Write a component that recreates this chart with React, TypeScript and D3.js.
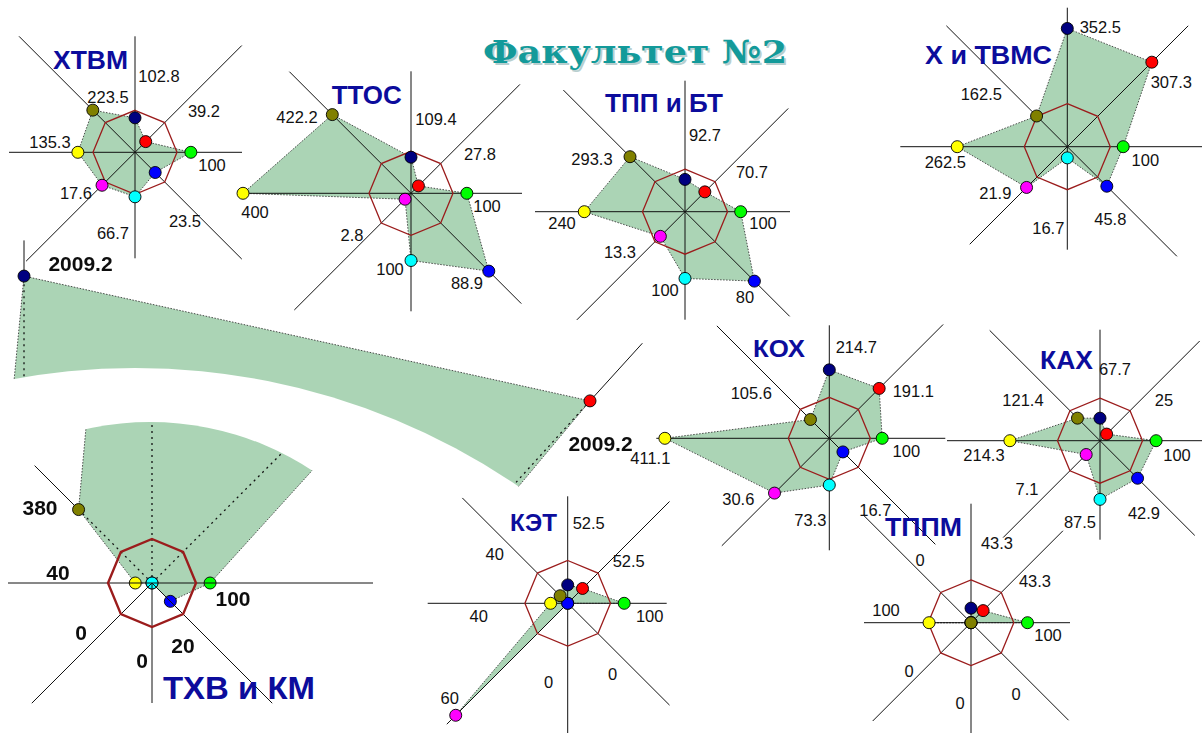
import React, { useEffect, useRef } from "react";
import * as d3 from "d3";

const W = 1202;
const H = 733;

// axis order everywhere: N, NE, E, SE, S, SW, W, NW
const pointColors = ["#000080", "#ff0000", "#00ff00", "#0000ff", "#00ffff", "#ff00ff", "#ffff00", "#808000"];
const drawOrder = [5, 4, 3, 0, 1, 2, 6, 7];

const pageTitle = "Факультет №2";

// printed labels and plotted radius (in units where the red octagon = 100)
const xtvmLabels = ["102.8", "39.2", "100", "23.5", "66.7", "17.6", "135.3", "223.5"];
const xtvmPlotted = [82, 36, 133, 68, 106, 111, 136, 142];

const ttosLabels = ["109.4", "27.8", "100", "88.9", "100", "2.8", "400", "422.2"];
const ttosPlotted = [86, 25, 133, 262, 160, 20, 400, 265];

const tppLabels = ["92.7", "70.7", "100", "80", "100", "13.3", "240", "293.3"];
const tppPlotted = [76, 66, 131, 231, 157, 82, 237, 183];

const xtvmsLabels = ["352.5", "307.3", "100", "45.8", "16.7", "21.9", "262.5", "162.5"];
const xtvmsPlotted = [275, 278, 130, 130, 26, 134, 256, 101];

const koxLabels = ["214.7", "191.1", "100", "16.7", "73.3", "30.6", "411.1", "105.6"];
const koxPlotted = [167, 172, 129, 47, 114, 189, 401, 65];

const kaxLabels = ["67.7", "25", "100", "42.9", "87.5", "7.1", "214.3", "121.4"];
const kaxPlotted = [53, 22, 132, 125, 138, 46, 212, 75];

const ketLabels = ["52.5", "52.5", "100", "0", "0", "60", "40", "40"];
const ketPlotted = [43, 49, 132, 0, 0, 370, 40, 25];

const tppmLabels = ["43.3", "43.3", "100", "0", "0", "0", "100", "0"];
const tppmPlotted = [34, 40, 132, 0, 0, 0, 98, 0];

const txvLabels = ["2009.2", "2009.2", "100", "20", "0", "0", "40", "380"];
const txvPlotted = [2009.2, 2009.2, 132, 59, 0, 0, 38, 236];

const FILL = "#abd4b5";
const OCT = "#9b1c1c";
const TITLE_COLOR = "#0c0c9c";
const SANS = "'Liberation Sans', Arial, sans-serif";

type Chart = {
  labels: string[];
  values: number[];
  cx: number;
  cy: number;
  r: number;
  skew?: number[];
  arms: number[];
  under?: number[];
  offsets: (number[] | null)[];
  dots?: number[];
  octagon?: boolean;
  octWidth?: number;
  fan?: number[];
  hole?: number[];
  box?: number[];
  bold?: boolean;
  title?: { text: string; x: number; y: number; size: number; width: number };
};

const charts: Chart[] = [
  {
    // magnified strip of the ТХВ и КМ chart
    labels: txvLabels, values: txvPlotted, cx: 24, cy: 1024.3, r: 40,
    skew: [0.996, -0.166, 0, 0.931],
    arms: [842, 878, 0, 0, 0, 0, 0, 0], under: [0, 1],
    offsets: [[56.5, -761.3], [576.5, -581.3], null, null, null, null, null, null],
    dots: [0, 1], octagon: false, hole: [135, 1048, 680], box: [0, 236, 660, 560], bold: true,
  },
  {
    labels: txvLabels, values: txvPlotted, cx: 152, cy: 583, r: 44,
    arms: [0, 0, 221, 170, 120, 170, 144, 166], under: [0, 1, 7],
    offsets: [null, null, [81, 15], [31, 62], [-10, 77], [-71, 49], [-94, -11], [-112, -76]],
    fan: [150, 718, 296], octWidth: 2.4, bold: true,
    title: { text: "ТХВ и КМ", x: 239, y: 688, size: 32, width: 152 },
  },
  {
    labels: xtvmLabels, values: xtvmPlotted, cx: 135, cy: 152.3, r: 42,
    arms: [116, 151, 107, 151, 106, 154, 126, 164],
    offsets: [[24, -76], [69, -41], [77, 13], [50, 69], [-22, 81], [-59, 41], [-85, -10], [-27, -55]],
    title: { text: "ХТВМ", x: 90.5, y: 60, size: 25, width: 75 },
  },
  {
    labels: ttosLabels, values: ttosPlotted, cx: 411, cy: 193.3, r: 42,
    arms: [122, 154, 111, 156, 118, 165, 168, 172],
    offsets: [[25, -74], [69, -39], [76, 13], [56, 90], [-21, 76], [-59, 42], [-156, 19], [-114, -76]],
    title: { text: "ТТОС", x: 366.7, y: 95, size: 25, width: 70 },
  },
  {
    labels: tppLabels, values: tppPlotted, cx: 685, cy: 211.7, r: 42.5,
    arms: [131, 146, 105, 148, 108, 153, 150, 172],
    offsets: [[20, -77], [67, -40], [78, 11], [60, 85], [-20, 78], [-65, 40], [-123, 11], [-93, -53]],
    title: { text: "ТПП и БТ", x: 664, y: 103, size: 25, width: 118 },
  },
  {
    labels: xtvmsLabels, values: xtvmsPlotted, cx: 1067.3, cy: 146.7, r: 43,
    arms: [139, 171, 135, 155, 103, 138, 167, 171],
    offsets: [[33, -120], [104, -65], [78, 13], [43, 72], [-19, 81], [-72, 46], [-122, 15], [-86, -53]],
    title: { text: "Х и ТВМС", x: 988.5, y: 55, size: 26, width: 127 },
  },
  {
    labels: koxLabels, values: koxPlotted, cx: 829.3, cy: 438.3, r: 41,
    arms: [113, 161, 116, 150, 112, 152, 173, 159],
    offsets: [[27, -91], [84, -47], [77, 13], [46, 72], [-19, 82], [-91, 61], [-179, 20], [-78, -45]],
    title: { text: "КОХ", x: 779, y: 348, size: 24, width: 52 },
  },
  {
    labels: kaxLabels, values: kaxPlotted, cx: 1100, cy: 440.7, r: 42.5,
    arms: [111, 141, 102, 134, 99, 137, 153, 156],
    offsets: [[15, -72], [64, -41], [77, 14], [44, 72], [-20, 81], [-73, 48], [-116, 14], [-77, -41]],
    title: { text: "КАХ", x: 1066.5, y: 360, size: 25, width: 53 },
  },
  {
    labels: ketLabels, values: ketPlotted, cx: 567.7, cy: 603.3, r: 42.8,
    arms: [107, 144, 99, 144, 130, 171, 140, 149],
    offsets: [[21, -80], [61, -42], [82, 13], [45, 71], [-19, 79], [-118, 95], [-89, 13], [-73, -49]],
    title: { text: "КЭТ", x: 533.5, y: 522.7, size: 24, width: 47 },
  },
  {
    labels: tppmLabels, values: tppmPlotted, cx: 971, cy: 622.7, r: 42.8,
    arms: [119, 130, 99, 138, 111, 139, 107, 152],
    offsets: [[26, -80], [64, -42], [77, 12], [45, 71], [-11, 80], [-62, 48], [-85, -13], [-51, -63]],
    title: { text: "ТППМ", x: 923.5, y: 526.7, size: 25, width: 77 },
  },
];

function drawChart(svg: any, defs: any, c: Chart, n: number) {
  const scale = d3.scaleLinear().domain([0, 100]).range([0, c.r]);
  const k = c.skew || [1, 0, 0, 1];
  const proj = (rho: number, i: number): [number, number] => {
    const a = (i * Math.PI) / 4;
    const lx = rho * Math.sin(a);
    const ly = -rho * Math.cos(a);
    return [c.cx + k[0] * lx + k[2] * ly, c.cy + k[1] * lx + k[3] * ly];
  };
  const closed = d3.line().curve(d3.curveLinearClosed);
  const pts = c.values.map((v, i) => proj(scale(v), i));
  const polyD = closed(pts);
  const under = c.under || [];
  const o = proj(0, 0);

  const g = svg.append("g");
  if (c.box) {
    const id = `box${n}`;
    defs.append("clipPath").attr("id", id).append("rect")
      .attr("x", c.box[0]).attr("y", c.box[1])
      .attr("width", c.box[2] - c.box[0]).attr("height", c.box[3] - c.box[1]);
    g.attr("clip-path", `url(#${id})`);
  }
  const host = c.hole ? g.append("g") : g;
  if (c.hole) {
    const id = `hole${n}`;
    const m = defs.append("mask").attr("id", id).attr("maskUnits", "userSpaceOnUse")
      .attr("x", 0).attr("y", 0).attr("width", W).attr("height", H);
    m.append("rect").attr("width", W).attr("height", H).attr("fill", "#fff");
    m.append("circle").attr("cx", c.hole[0]).attr("cy", c.hole[1]).attr("r", c.hole[2]).attr("fill", "#000");
    host.attr("mask", `url(#${id})`);
  }

  const axis = (sel: any, i: number, len: number, dotted = false) => {
    const p = proj(len, i);
    sel.append("line")
      .attr("x1", o[0]).attr("y1", o[1]).attr("x2", p[0]).attr("y2", p[1])
      .attr("stroke", "#111").attr("stroke-width", dotted ? 1.3 : 1)
      .attr("stroke-dasharray", dotted ? "2 4" : null);
  };

  under.forEach((i) => { if (c.arms[i] > 0) axis(host, i, c.arms[i]); });

  let body = host;
  if (c.fan) {
    const id = `fan${n}`;
    defs.append("clipPath").attr("id", id).append("circle")
      .attr("cx", c.fan[0]).attr("cy", c.fan[1]).attr("r", c.fan[2]);
    body = host.append("g").attr("clip-path", `url(#${id})`);
  }
  body.append("path").attr("d", polyD).attr("fill", FILL);

  if (under.length) {
    const id = `poly${n}`;
    defs.append("clipPath").attr("id", id).append("path").attr("d", polyD);
    const dg = body.append("g").attr("clip-path", `url(#${id})`);
    under.forEach((i) => axis(dg, i, 3000, true));
  }
  body.append("path").attr("d", polyD).attr("fill", "none")
    .attr("stroke", "#3a3a3a").attr("stroke-width", 0.9).attr("stroke-dasharray", "1.5 1.5");

  c.arms.forEach((len, i) => { if (!under.includes(i) && len > 0) axis(host, i, len); });

  if (c.octagon !== false) {
    host.append("path")
      .attr("d", closed(d3.range(8).map((i) => proj(scale(100), i))))
      .attr("fill", "none").attr("stroke", OCT).attr("stroke-width", c.octWidth || 1.3);
  }

  const dotLayer = c.fan ? body : host;
  drawOrder
    .filter((i) => !c.dots || c.dots.includes(i))
    .forEach((i) => {
      dotLayer.append("circle")
        .attr("cx", pts[i][0]).attr("cy", pts[i][1]).attr("r", 6)
        .attr("fill", pointColors[i]).attr("stroke", "#000").attr("stroke-width", 0.9);
    });

  c.offsets.forEach((off, i) => {
    if (!off) return;
    svg.append("text")
      .attr("x", c.cx + off[0]).attr("y", c.cy + off[1])
      .attr("text-anchor", "middle").attr("dominant-baseline", "central")
      .attr("font-family", SANS)
      .attr("font-size", c.bold ? 21 : 16.5)
      .attr("font-weight", c.bold ? "bold" : "normal")
      .attr("filter", c.bold ? "url(#soft)" : null)
      .attr("fill", "#111")
      .text(c.labels[i]);
  });

  if (c.title) {
    const t = c.title;
    svg.append("text")
      .attr("x", t.x).attr("y", t.y)
      .attr("text-anchor", "middle").attr("dominant-baseline", "central")
      .attr("font-family", SANS).attr("font-weight", "bold").attr("font-size", t.size)
      .attr("textLength", t.width).attr("lengthAdjust", "spacingAndGlyphs")
      .attr("fill", TITLE_COLOR)
      .text(t.text);
  }
}

export default function App() {
  const svgRef = useRef<SVGSVGElement>(null);

  useEffect(() => {
    const svg = d3.select(svgRef.current);
    svg.selectAll("*").remove();
    const defs = svg.append("defs");
    defs.append("filter").attr("id", "soft")
      .append("feGaussianBlur").attr("stdDeviation", 0.45);

    charts.forEach((c, i) => drawChart(svg, defs, c, i));

    const title = (dx: number, color: string) =>
      svg.append("text")
        .attr("x", 635 + dx).attr("y", 63 + dx)
        .attr("text-anchor", "middle")
        .attr("font-family", "'DejaVu Serif', 'Liberation Serif', serif")
        .attr("font-weight", "bold").attr("font-size", 32)
        .attr("textLength", 304).attr("lengthAdjust", "spacingAndGlyphs")
        .attr("fill", color)
        .text(pageTitle);
    title(2, "#b9cfcf");
    title(0, "#139a9a");
  }, []);

  return (
    <svg
      ref={svgRef}
      width={W}
      height={H}
      style={{ position: "absolute", left: 0, top: 0, background: "#fff" }}
    />
  );
}
